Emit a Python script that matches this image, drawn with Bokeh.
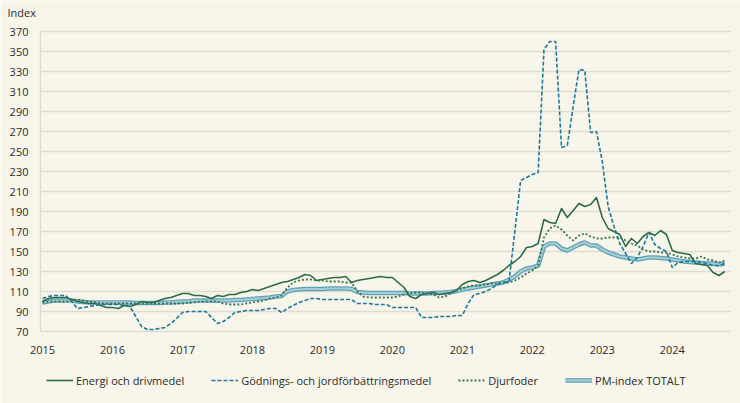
from bokeh.plotting import figure
from bokeh.models import Range1d, Legend, LegendItem
from bokeh.core.properties import value
from bokeh.embed import file_html
from bokeh.resources import INLINE

# Monthly index values, Jan 2015 .. Oct 2024
years = ["2015", "2016", "2017", "2018", "2019", "2020", "2021", "2022", "2023", "2024"]
y_ticks = [70, 90, 110, 130, 150, 170, 190, 210, 230, 250, 270, 290, 310, 330, 350, 370]

energi = [100, 103, 104, 104, 104, 102, 100, 99, 98, 98, 96, 94,
          94, 93, 96, 95, 97, 100, 99, 99, 101, 103, 104, 106,
          108, 108, 106, 106, 105, 103, 106, 105, 107, 107, 109, 110,
          112, 111, 113, 115, 117, 119, 120, 122, 124, 127, 126, 121,
          122, 123, 124, 124, 125, 119, 121, 122, 123, 124, 125, 124,
          124, 119, 114, 105, 103, 107, 108, 109, 107, 108, 109, 111,
          117, 120, 121, 119, 121, 124, 127, 131, 136, 140, 145, 154,
          155, 158, 182, 179, 178, 193, 184, 191, 198, 195, 197, 204,
          184, 173, 170, 167, 155, 163, 158, 165, 169, 166, 171, 167,
          151, 149, 148, 147, 138, 137, 136, 129, 126, 130]

godning = [103, 105, 106, 106, 106, 100, 93, 94, 95, 96, 97, 97,
           97, 97, 96, 95, 85, 75, 72, 72, 73, 74, 78, 83,
           89, 90, 90, 90, 90, 84, 78, 80, 84, 89, 90, 91,
           91, 91, 92, 93, 93, 89, 93, 96, 99, 101, 103, 103,
           102, 102, 102, 102, 102, 102, 98, 98, 98, 97, 97, 97,
           94, 94, 94, 94, 94, 84, 84, 84, 85, 85, 85, 86,
           86, 98, 107, 108, 110, 113, 117, 119, 120, 170, 221, 224,
           227, 229, 352, 360, 360, 254, 256, 295, 332, 331, 269, 270,
           240, 195, 175, 158, 148, 138, 144, 155, 169, 157, 153, 150,
           134, 139, 140, 140, 140, 139, 138, 136, 136, 138]

djurfoder = [99, 100, 100, 100, 100, 101, 102, 101, 100, 99, 98, 98,
             98, 98, 98, 98, 98, 98, 98, 98, 98, 98, 98, 98,
             98, 99, 99, 100, 100, 100, 100, 98, 97, 97, 97, 98,
             99, 100, 101, 103, 104, 106, 114, 119, 121, 122, 122, 121,
             121, 120, 120, 120, 119, 119, 110, 105, 104, 104, 104, 104,
             104, 105, 107, 108, 109, 109, 108, 107, 104, 105, 108, 111,
             113, 115, 116, 116, 117, 118, 118, 119, 119, 121, 124, 128,
             131, 136, 164, 173, 176, 172, 166, 161, 166, 168, 165, 163,
             163, 164, 164, 164, 161, 158, 156, 152, 150, 150, 149, 149,
             147, 145, 144, 143, 143, 145, 142, 141, 139, 141]

totalt = [99, 100, 101, 101, 101, 101, 100, 99.5, 99, 99, 99, 99,
          99, 99, 99, 99, 98.5, 98.5, 98.5, 98.5, 98.5, 99, 99, 99.5,
          100, 100, 101, 101, 101, 101, 101, 101, 101, 101.5, 101.5, 102,
          102.5, 103, 103.5, 104, 105, 105.5, 110, 111.5, 112, 112.5, 112.5, 112.5,
          112.5, 113, 113, 113, 113, 112.5, 109.5, 109, 108.5, 108.5, 108.5, 108.5,
          108.5, 108.5, 108.5, 108, 108, 108, 108, 108.5, 108.5, 109, 109.5, 110.5,
          112, 113, 114, 115, 116, 117, 118, 119, 122, 125, 130, 133,
          134, 136, 155, 158, 158, 153, 151, 154, 157, 159, 156, 156,
          152, 149, 147, 145, 144, 143, 142, 143, 144, 144, 143.5, 143,
          142, 141, 140, 139.5, 139, 138.5, 138, 138, 137, 138]

months = list(range(len(energi)))
year_pos = [12 * i for i in range(len(years))]
y_tick_text = [str(t) for t in y_ticks]

FONT = "Open Sans"
FS = "11px"
BG = "#F8F6EA"
GRID = "#DFDCD4"
TXT = "#2B2B2B"

# Layout constants (data units; the frame fills the whole canvas)
X_START, X_END = -7.2, 119.7     # whole canvas width
AX = -0.34                        # position of the vertical axis line
GRID_END = 118.0                  # right end of the grid lines
YLAB_X = -2.4                     # right edge of the y tick labels
Y_START, Y_END = -2, 401          # whole canvas height
YEAR_LABEL_Y = 52
INDEX_X, INDEX_Y = -6.0, 389

p = figure(width=740, height=403, output_backend="svg", toolbar_location=None,
           x_range=Range1d(X_START, X_END), y_range=Range1d(Y_START, Y_END),
           x_axis_location=None, y_axis_location=None,
           min_border_left=0, min_border_right=0, min_border_top=0, min_border_bottom=0)
p.background_fill_color = BG
p.border_fill_color = BG
p.outline_line_color = None
p.xgrid.grid_line_color = None
p.ygrid.grid_line_color = None

# horizontal grid lines and the vertical axis line
p.segment(x0=[AX] * len(y_ticks), y0=y_ticks, x1=[GRID_END] * len(y_ticks), y1=y_ticks,
          line_color=GRID, line_width=1.5)
p.segment(x0=[AX], y0=[y_ticks[0]], x1=[AX], y1=[y_ticks[-1]],
          line_color=GRID, line_width=1.5)

# tick labels and the "Index" label
p.text(x=[YLAB_X] * len(y_ticks), y=y_ticks, text=y_tick_text,
       text_align="right", text_baseline="middle",
       text_font=value(FONT), text_font_size=FS, text_color=TXT)
p.text(x=year_pos, y=[YEAR_LABEL_Y] * len(years), text=years,
       text_align="center", text_baseline="middle",
       text_font=value(FONT), text_font_size=FS, text_color=TXT)
p.text(x=[INDEX_X], y=[INDEX_Y], text=["Index"],
       text_align="left", text_baseline="middle",
       text_font=value(FONT), text_font_size=FS, text_color=TXT)

# Series
r_tot_out = p.line(months, totalt, line_color="#62A2B3", line_width=4.6, line_join="round")
r_tot_in = p.line(months, totalt, line_color="#A3CED8", line_width=2.2, line_join="round")
r_en = p.line(months, energi, line_color="#2E6A4A", line_width=1.6, line_join="round")
r_go = p.line(months, godning, line_color="#1C7A99", line_width=1.6, line_dash="4 2")
r_dj = p.line(months, djurfoder, line_color="#3A7556", line_width=1.8, line_dash="2 2")

legend = Legend(items=[
    LegendItem(label="Energi och drivmedel", renderers=[r_en]),
    LegendItem(label="Gödnings- och jordförbättringsmedel", renderers=[r_go]),
    LegendItem(label="Djurfoder", renderers=[r_dj]),
    LegendItem(label="PM-index TOTALT", renderers=[r_tot_out, r_tot_in]),
], orientation="horizontal", location=(46, 15))
legend.padding = 0
legend.margin = 0
legend.spacing = 27
legend.glyph_width = 27
legend.glyph_height = 16
legend.label_height = 16
legend.label_standoff = 3
legend.label_text_font = FONT
legend.label_text_font_size = FS
legend.label_text_color = TXT
legend.border_line_color = None
legend.background_fill_alpha = 0
p.add_layout(legend)

open("out.html", "w").write(file_html(p, INLINE))
